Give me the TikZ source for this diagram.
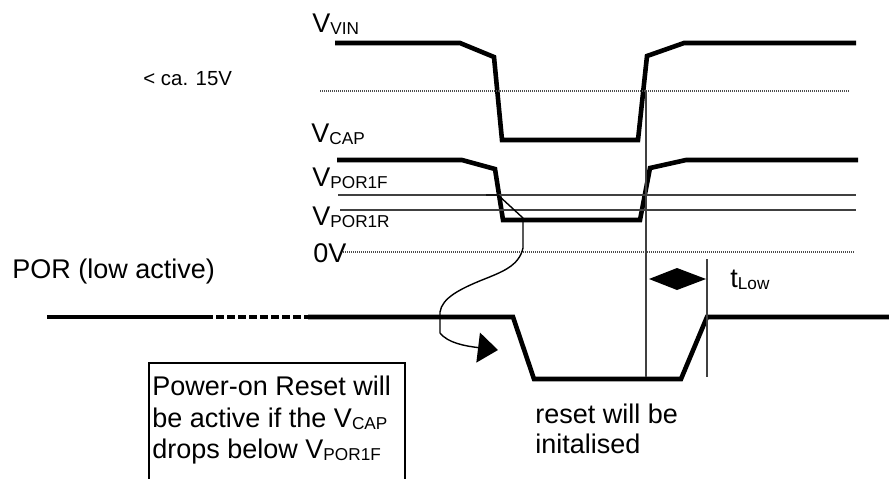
\documentclass[tikz,border=0pt]{standalone}
\usepackage{fontspec}
\setmainfont{Liberation Sans}
\usetikzlibrary{arrows.meta}
\newcommand{\lsub}[1]{\raisebox{-1.1pt}{\fontsize{8.6}{9}\selectfont #1}}
\begin{document}
\begin{tikzpicture}[x=0.5pt,y=-0.5pt,
  wave/.style={line width=2.3pt, line join=miter},
  thinl/.style={line width=0.55pt, draw=black!75},
  dotl/.style={line width=0.55pt, draw=black!70, dash pattern=on 0.5pt off 0.5pt},
  lbl/.style={anchor=base west, inner sep=0pt, font=\fontsize{13.5}{16}\selectfont},
  smalllbl/.style={anchor=base west, inner sep=0pt, font=\fontsize{10.2}{12}\selectfont}]
\useasboundingbox (0,0) rectangle (889,478);

% V_VIN waveform and threshold
\draw[wave] (335,43) -- (460,43) -- (494,57) -- (502,140) -- (638,140) -- (647,56) -- (684,43) -- (856,43);
\draw[dotl] (320,91) -- (849,91);

% V_CAP waveform
\draw[wave] (337,160) -- (462,160) -- (495,169) -- (503,220) -- (640,220) -- (650,168) -- (686,160) -- (858,160);
\draw[thinl] (338,195) -- (856,195);
\draw[thinl] (340,210) -- (856,210);
\draw[dotl] (343,252) -- (855,252);

% POR waveform
\draw[wave] (47,317) -- (205,317);
\draw[wave, dash pattern=on 4pt off 1.5pt] (205,317) -- (315,317);
\draw[wave] (308,317) -- (513,317) -- (534,379) -- (681,379) -- (707,317) -- (889,317);

% vertical markers
\draw[thinl] (646,91) -- (646,377);
\draw[thinl] (707,259) -- (707,377);

% t_Low double arrow (diamond)
\coordinate (dl) at (649,279);
\coordinate (dr) at (706,279);
\fill (dl) -- (677,268) -- (dr) -- (677,290) -- cycle;

% connector from V_POR1F crossing to POR
\coordinate (c0) at (486,195);
\coordinate (c1) at (498,350);
\draw[line width=0.7pt, line join=round, -{Triangle[length=10pt,width=15pt]}] (c0) -- (498,195) -- (523,218) -- (523,248)
  .. controls (519,266) and (502,272) .. (482,280)
  .. controls (460,289) and (442,298) .. (440,312) -- (440,333)
  .. controls (448,343) and (465,346) .. (c1);

% box (open at bottom)
\draw[line width=0.8pt] (149,482) -- (149,363) -- (405,363) -- (405,482);

% labels
\node[lbl] (vin) at (312,32) {V\lsub{VIN}};
\node[smalllbl] (ca) at (143,85) {< ca. 15V};
\node[lbl] (vcap) at (311,142) {V\lsub{CAP}};
\node[lbl] (vf) at (312,186) {V\lsub{POR1F}};
\node[lbl] (vr) at (312,225) {V\lsub{POR1R}};
\node[lbl] (zero) at (313,262) {0V};
\node[lbl] (por) at (12,278) {POR (low active)};
\node[lbl] (tl) at (730,287) {t\lsub{Low}};
\node[lbl] (r1) at (535,423) {reset will be};
\node[lbl] (r2) at (535,453) {initalised};
\node[lbl] (b1) at (152,395) {Power-on Reset will};
\node[lbl] (b2) at (152,427) {be active if the V\lsub{CAP}};
\node[lbl] (b3) at (152,458) {drops below V\lsub{POR1F}};
\end{tikzpicture}
\end{document}
